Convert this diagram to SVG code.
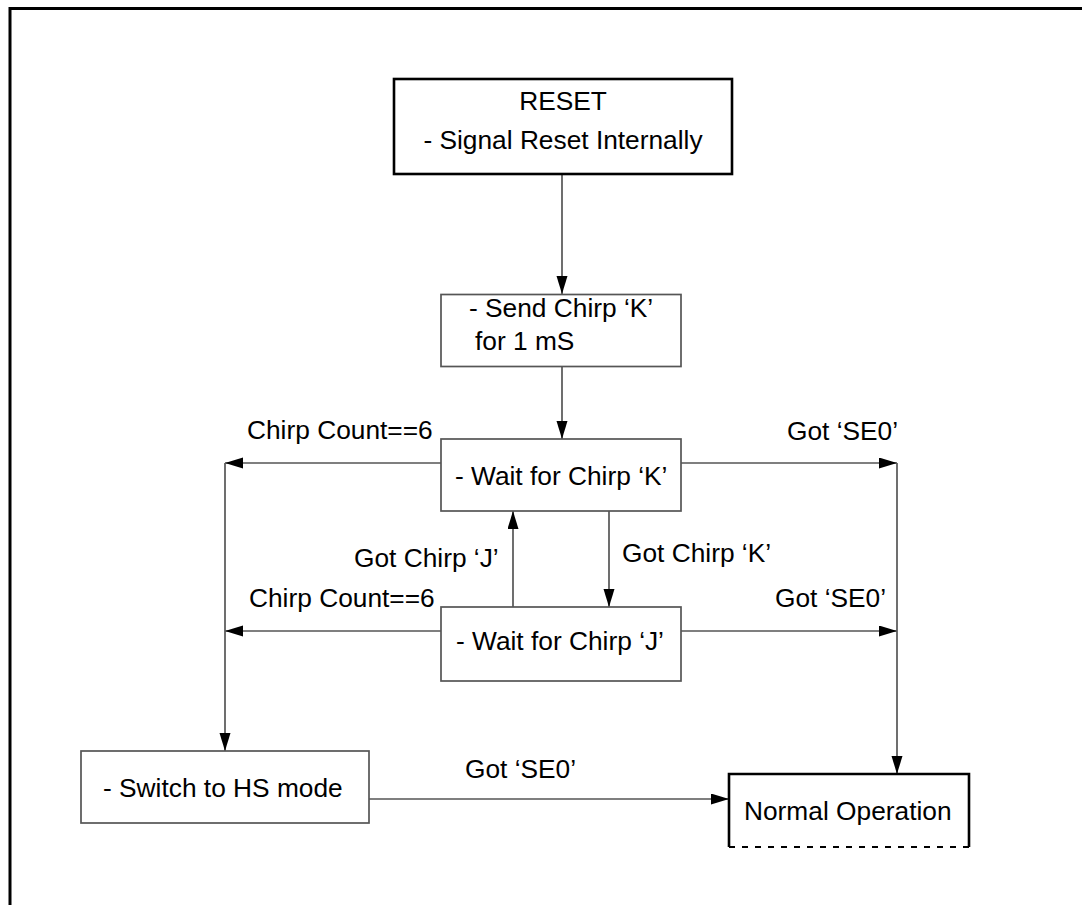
<svg xmlns="http://www.w3.org/2000/svg" width="1082" height="905" viewBox="0 0 1082 905">
<style>
.t{font-family:"Liberation Sans",Arial,sans-serif;font-size:26.3px;fill:#000}
.box{fill:#fff;stroke:#555;stroke-width:1.7}
.bold{fill:#fff;stroke:#000;stroke-width:2.6}
.c{fill:none;stroke:#555;stroke-width:1.7}
</style>
<defs>
<marker id="ah" markerUnits="userSpaceOnUse" markerWidth="19" markerHeight="12" refX="18" refY="5.5" orient="auto" viewBox="0 0 19 12">
<path d="M0,0 L18,5.5 L0,11 z" fill="#000"/>
</marker>
</defs>
<rect width="1082" height="905" fill="#fff"/>
<g id="frame">
<path d="M10,905 V8.5 H1082" fill="none" stroke="#000" stroke-width="3"/>
</g>
<g id="connectors">
<line class="c" x1="562" y1="175" x2="562" y2="294" marker-end="url(#ah)"/>
<line class="c" x1="562" y1="367" x2="562" y2="439" marker-end="url(#ah)"/>
<line class="c" x1="441" y1="463" x2="225" y2="463" marker-end="url(#ah)"/>
<line class="c" x1="441" y1="631" x2="225" y2="631" marker-end="url(#ah)"/>
<line class="c" x1="225" y1="463" x2="225" y2="751" marker-end="url(#ah)"/>
<line class="c" x1="513" y1="607" x2="513" y2="511" marker-end="url(#ah)"/>
<line class="c" x1="609" y1="511" x2="609" y2="607" marker-end="url(#ah)"/>
<line class="c" x1="681" y1="463" x2="897" y2="463" marker-end="url(#ah)"/>
<line class="c" x1="681" y1="631" x2="897" y2="631" marker-end="url(#ah)"/>
<line class="c" x1="897" y1="463" x2="897" y2="774" marker-end="url(#ah)"/>
<line class="c" x1="369" y1="799" x2="729" y2="799" marker-end="url(#ah)"/>
<text class="t" x="247" y="439">Chirp Count==6</text>
<text class="t" x="249" y="607">Chirp Count==6</text>
<text class="t" x="354" y="567">Got Chirp ‘J’</text>
<text class="t" x="622" y="562">Got Chirp ‘K’</text>
<text class="t" x="787" y="440">Got ‘SE0’</text>
<text class="t" x="775" y="607">Got ‘SE0’</text>
<text class="t" x="465" y="778">Got ‘SE0’</text>
</g>
<g id="reset">
<rect class="bold" x="394" y="79" width="338" height="95"/>
<text class="t" x="563" y="110" text-anchor="middle">RESET</text>
<text class="t" x="563" y="149" text-anchor="middle">- Signal Reset Internally</text>
</g>
<g id="send-chirp">
<rect class="box" x="441" y="294.5" width="240" height="72"/>
<text class="t" x="469" y="317">- Send Chirp ‘K’</text>
<text class="t" x="475" y="350">for 1 mS</text>
</g>
<g id="wait-k">
<rect class="box" x="441" y="439" width="240" height="72"/>
<text class="t" x="455" y="485">- Wait for Chirp ‘K’</text>
</g>
<g id="wait-j">
<rect class="box" x="441" y="607" width="240" height="74"/>
<text class="t" x="456" y="650">- Wait for Chirp ‘J’</text>
</g>
<g id="switch-hs">
<rect class="box" x="81" y="751" width="288" height="72"/>
<text class="t" x="103" y="797">- Switch to HS mode</text>
</g>
<g id="normal-op">
<rect x="729" y="774" width="240" height="73" fill="#fff"/>
<path d="M729,847 V774 H969 V847" fill="none" stroke="#000" stroke-width="2.6"/>
<line x1="729" y1="847" x2="969" y2="847" stroke="#000" stroke-width="2" stroke-dasharray="6,7"/>
<text class="t" x="744" y="820">Normal Operation</text>
</g>
</svg>
